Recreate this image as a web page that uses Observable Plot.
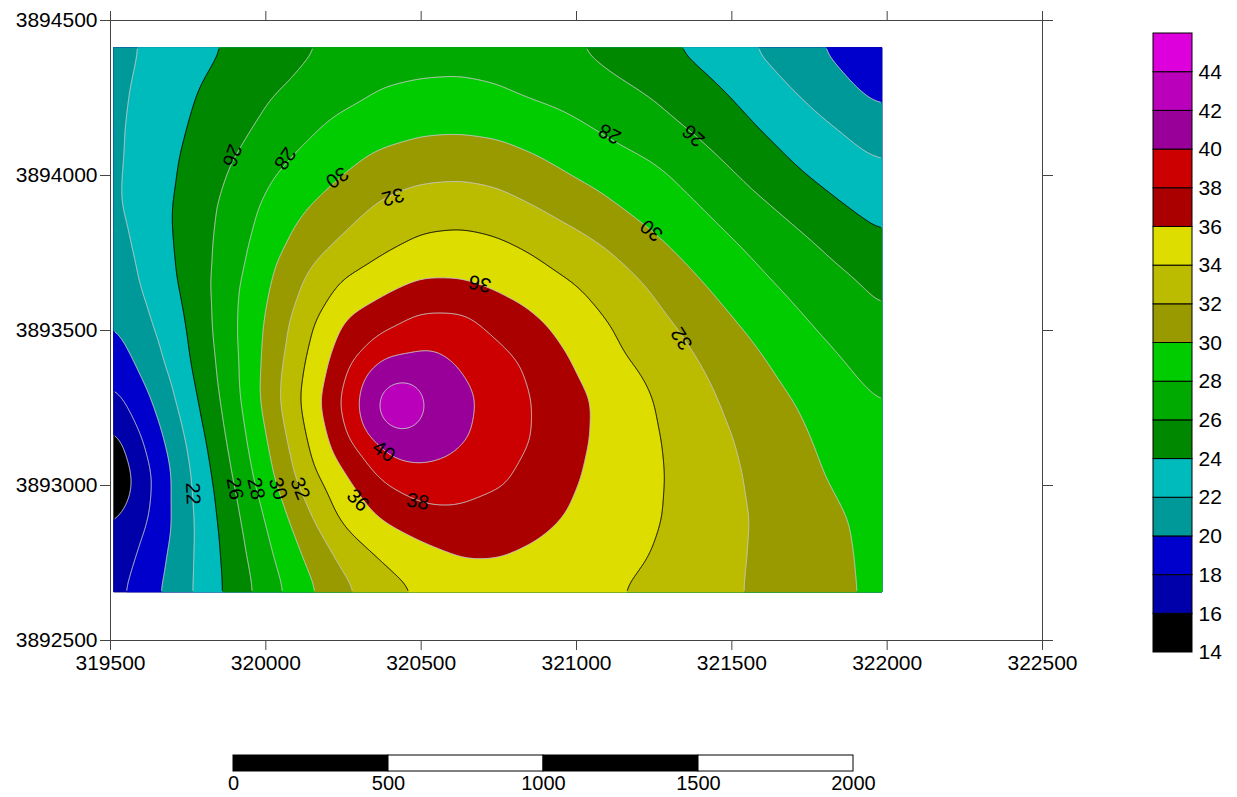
<!DOCTYPE html>
<html><head><meta charset="utf-8">
<script src="https://cdn.jsdelivr.net/npm/d3@7"></script>
<script src="https://cdn.jsdelivr.net/npm/@observablehq/plot@0.6"></script>
<style>
body{margin:0;background:#fff;font-family:"Liberation Sans",Arial,sans-serif;}
#wrap{position:relative;width:1237px;height:797px;overflow:hidden;}
#wrap svg{position:absolute;}
</style></head><body><div id="wrap"></div>
<script>
// ---- contour levels and colours ----
const levels = [14,16,18,20,22,24,26,28,30,32,34,36,38,40,42,44,46];
const bandColors = ["#000000","#0000aa","#0000cc","#009999","#00bbbb","#008800","#00aa00","#00cc00",
                    "#999900","#bbbb00","#dddd00","#aa0000","#cc0000","#990099","#bb00bb","#dd00dd"];
const grayLevels = [16,18,20,22,26,28,30,32,36,38,40,42,44];
const blackLevels = [24,34];
const eastings = [319509,319625,319750,319875,320000,320125,320250,320375,320500,320625,320750,
                  320875,321000,321125,321250,321375,321500,321625,321750,321875,321984];
const northings = [3894414,3894275,3894150,3894025,3893900,3893775,3893650,3893525,3893400,
                   3893275,3893150,3893025,3892900,3892775,3892656];
const gridRows = [
 [21.3,22.3,23.2,24.1,24.9,25.75,26.45,27.0,27.33,27.4,27.2,26.8,26.06,25.24,24.48,23.6,22.58,21.5,20.33,19.2,18.3],
 [21.5,22.6,23.76,24.75,25.69,26.5,27.3,28.05,28.25,28.3,28.1,27.55,27.0,26.4,25.76,24.8,23.8,22.66,21.5,20.3,19.3],
 [21.6,22.77,24.06,25.24,26.44,27.6,28.65,29.33,29.71,29.8,29.6,29.13,28.4,27.53,26.72,25.86,24.74,23.69,22.75,21.75,21.0],
 [21.6,22.93,24.4,25.92,27.48,28.7,29.76,30.72,31.27,31.4,31.1,30.4,29.6,28.9,28.2,27.16,25.94,24.76,23.67,22.77,22.2],
 [21.6,23.04,24.68,26.5,28.35,29.85,31.13,32.32,33.03,33.2,32.8,31.95,31.0,30.1,29.16,28.2,27.13,26.03,24.99,23.95,23.2],
 [21.2,22.8,24.7,26.8,29.0,30.9,32.4,33.6,34.43,34.6,34.32,33.6,32.7,31.65,30.4,29.28,28.2,27.2,26.2,25.2,24.4],
 [20.7,22.5,24.55,27.15,29.7,32.2,34.28,35.35,36.3,36.25,35.58,34.8,34.0,32.9,31.7,30.35,29.2,28.1,27.2,26.3,25.5],
 [19.9,21.84,24.14,27.2,30.15,33.3,36.2,37.4,38.6,38.6,37.35,36.25,35.0,33.8,32.6,31.4,30.15,29.1,28.0,27.1,26.3],
 [18.7,21.0,23.8,26.9,30.4,34.0,37.3,40.35,40.7,39.8,38.67,37.4,35.8,34.4,33.4,32.2,31.0,29.9,28.9,27.9,27.1],
 [17.2,19.8,23.1,26.6,30.6,34.5,38.4,42.6,42.0,40.6,39.2,37.8,36.5,35.2,34.0,32.8,31.6,30.55,29.6,28.65,27.95],
 [15.1,18.67,22.27,26.1,29.9,33.8,37.45,40.8,41.2,40.3,39.07,37.8,36.4,35.25,34.2,33.15,32.05,31.05,30.05,29.1,28.35],
 [14.0,17.7,21.7,25.45,29.2,32.9,35.7,38.25,39.3,39.0,38.3,37.25,36.1,35.2,34.3,33.25,32.3,31.3,30.4,29.45,28.6],
 [15.5,18.0,21.5,24.9,28.2,31.45,34.55,36.25,37.33,37.56,37.27,36.7,35.7,35.0,34.2,33.3,32.4,31.55,30.75,30.0,29.3],
 [16.7,18.76,21.6,24.5,27.5,30.2,32.6,34.3,35.3,36.05,36.02,35.56,35.0,34.5,33.95,33.15,32.3,31.55,30.8,30.1,29.5],
 [17.3,19.37,21.7,24.3,26.85,29.3,31.5,32.95,34.2,35.0,35.25,35.1,34.55,34.1,33.55,32.9,32.2,31.55,30.85,30.15,29.6]
];
// extra samples around the peak
const peakEast  = [320428,320315,320541,320428,320428,320348,320509,320348,320509];
const peakNorth = [3893258,3893258,3893258,3893371,3893145,3893339,3893339,3893177,3893177];
const peakValue = [43.9,40.8,41.8,41.4,41.45,41.2,41.6,41.2,41.6];
// ---- contour labels ----
const labelText  = ["26","28","30","32","28","26","30","36","32","40","38","36","22","26","28","30","32"];
const labelEast  = [319891,320061,320229,320409,321107,321377,321242,320689,321339,320380,320489,320296,319765,319900,319968,320039,320110];
const labelNorth = [3894065,3894055,3893994,3893932,3894135,3894129,3893823,3893652,3893474,3893110,3892948,3892952,3892974,3892990,3892990,3892990,3892990];
const labelAngle = [110,125,145,165,207,222,220,193,237,35,10,45,88,80,77,72,68];
// ---- axes ----
const xTicks = [319500,320000,320500,321000,321500,322000,322500];
const yTicks = [3892500,3893000,3893500,3894000,3894500];
const legendTicks = [14,16,18,20,22,24,26,28,30,32,34,36,38,40,42,44];
const scaleBarTicks = [0,500,1000,1500,2000];
const scaleBarFill = ["#000","#fff","#000","#fff"];

const FONT = '"Liberation Sans", Arial, sans-serif';
const samples = [];
northings.forEach((n, j) => eastings.forEach((e, i) => samples.push({x: e, y: n, v: gridRows[j][i]})));
peakEast.forEach((e, k) => samples.push({x: e, y: peakNorth[k], v: peakValue[k]}));

const X1 = eastings[0], X2 = eastings[eastings.length - 1];
const Y1 = northings[northings.length - 1], Y2 = northings[0];
const common = {x: "x", y: "y", value: "v", interpolate: "barycentric", blur: 10, pixelSize: 1,
                x1: X1, x2: X2, y1: Y1, y2: Y2};
const labels = labelText.map((t, i) => ({t, x: labelEast[i], y: labelNorth[i], r: labelAngle[i]}));

const main = Plot.plot({
  width: 1237, height: 700,
  marginLeft: 110, marginRight: 195, marginTop: 20, marginBottom: 60,
  x: {domain: [319500, 322500], label: null},
  y: {domain: [3892500, 3894500], label: null},
  color: {type: "threshold", domain: levels.slice(1, -1), range: bandColors},
  style: {fontFamily: FONT, fontSize: "21px", color: "#333", background: "transparent", overflow: "visible"},
  marks: [
    Plot.contour(samples, {...common, thresholds: levels.slice(0, -1), fill: "value", stroke: "none"}),
    Plot.contour(samples, {...common, thresholds: grayLevels, fill: "none", stroke: "#c8c8c8", strokeWidth: 1}),
    Plot.contour(samples, {...common, thresholds: blackLevels, fill: "none", stroke: "#000", strokeWidth: 1}),
    Plot.text(labels, {x: "x", y: "y", text: "t", rotate: "r", fontSize: 20, fill: "#000", fontFamily: FONT}),
    Plot.frame({stroke: "#444"}),
    Plot.axisX({anchor: "bottom", ticks: xTicks, tickSize: 10, tickPadding: 5, tickFormat: d => String(d), label: null, fontSize: 21, fill: "#000", stroke: "#444"}),
    Plot.axisX({anchor: "top", ticks: xTicks, tickSize: 10, tickFormat: () => "", label: null, stroke: "#444"}),
    Plot.axisY({anchor: "left", ticks: yTicks, tickSize: 10, tickPadding: 3, tickFormat: d => String(d), label: null, fontSize: 21, fill: "#000", stroke: "#444"}),
    Plot.axisY({anchor: "right", ticks: yTicks, tickSize: 10, tickFormat: () => "", label: null, stroke: "#444"})
  ]
});
main.style.left = "0px"; main.style.top = "0px";

// clip contour lines to just inside the gridded area (hides raster-edge strokes)
(function () {
  const sx = main.scale("x"), sy = main.scale("y");
  const ns = "http://www.w3.org/2000/svg";
  const cp = document.createElementNS(ns, "clipPath");
  cp.setAttribute("id", "gridclip");
  const r = document.createElementNS(ns, "rect");
  const inset = 1.5;
  const l = sx.apply(X1) + inset, rr = sx.apply(X2) - inset, t = sy.apply(Y2) + inset, b = sy.apply(Y1) - inset;
  r.setAttribute("x", l); r.setAttribute("y", t);
  r.setAttribute("width", rr - l); r.setAttribute("height", b - t);
  cp.appendChild(r);
  main.insertBefore(cp, main.firstChild);
  const groups = main.querySelectorAll('g[aria-label="contour"]');
  for (let i = 1; i < groups.length; i++) groups[i].setAttribute("clip-path", "url(#gridclip)");
})();

// colour bar
const legendBands = levels.slice(0, -1).map((lo, i) => ({lo, hi: levels[i + 1], c: bandColors[i]}));
const bar = Plot.plot({
  width: 97, height: 700, marginLeft: 13, marginRight: 45, marginTop: 33, marginBottom: 48,
  x: {domain: [0, 1], axis: null}, y: {domain: [14, 46], axis: null},
  style: {fontFamily: FONT, fontSize: "21px", color: "#000", background: "transparent", overflow: "visible"},
  marks: [
    Plot.rect(legendBands, {x1: 0, x2: 1, y1: "lo", y2: "hi", fill: "c", stroke: "#000", strokeWidth: 1}),
    Plot.text(legendTicks, {x: 1, y: d => d, dx: 6, textAnchor: "start", fontSize: 21, fill: "#000"})
  ]
});
bar.style.left = "1140px"; bar.style.top = "0px";

// scale bar
const segs = scaleBarFill.map((c, i) => ({a: scaleBarTicks[i], b: scaleBarTicks[i + 1], c}));
const sbar = Plot.plot({
  width: 1237, height: 57, marginLeft: 233, marginRight: 384, marginTop: 15, marginBottom: 26,
  x: {domain: [0, 2000], label: null}, y: {domain: [0, 1], axis: null},
  style: {fontFamily: FONT, fontSize: "20px", color: "#000", background: "transparent", overflow: "visible"},
  marks: [
    Plot.rect(segs, {x1: "a", x2: "b", y1: 0, y2: 1, fill: "c", stroke: "#000", strokeWidth: 1}),
    Plot.axisX({anchor: "bottom", ticks: scaleBarTicks, tickSize: 0, tickPadding: 4, tickFormat: d => String(d), label: null, fontSize: 20, fill: "#000"})
  ]
});
sbar.style.left = "0px"; sbar.style.top = "740px";

const wrap = document.getElementById("wrap");
wrap.appendChild(main); wrap.appendChild(bar); wrap.appendChild(sbar);
</script>
</body></html>
